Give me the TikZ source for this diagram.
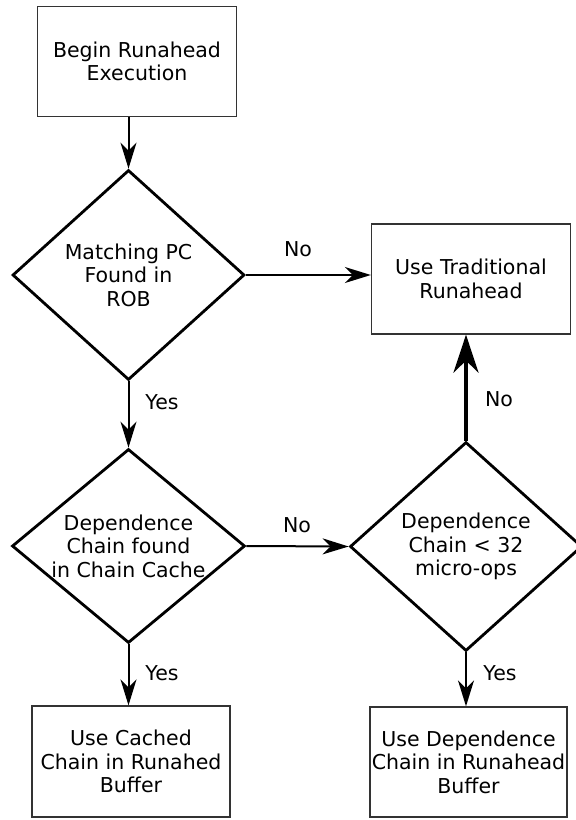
\documentclass[tikz,border=0pt]{standalone}
\usepackage{fontspec}
\setmainfont{DejaVu Sans}
\usetikzlibrary{shapes.geometric, arrows.meta}

\begin{document}
\begin{tikzpicture}[x=1pt, y=-1pt,
    every node/.style={font=\fontsize{20.5}{23.5}\selectfont},
    stepbox/.style={rectangle, draw=black!80, line width=1.3pt, align=center, inner sep=0pt},
    decision/.style={diamond, draw=black, line width=2.8pt, align=center, inner sep=-25pt},
    flow/.style={draw, line width=2pt, -{Stealth[length=26pt, width=16pt, inset=8pt]}},
    flowthick/.style={draw, line width=3.2pt, -{Stealth[length=38pt, width=25pt, inset=12pt]}},
    lbl/.style={inner sep=0pt}]
    \useasboundingbox (0,0) rectangle (576,820);

    % boxes
    \node[stepbox, minimum width=199pt, minimum height=110pt] (begin) at (137,61.5) {Begin Runahead\\Execution};
    \node[stepbox, minimum width=199pt, minimum height=110pt] (trad) at (471,279) {Use Traditional\\Runahead};
    \node[stepbox, minimum width=198pt, minimum height=111pt] (cached) at (131,761.5) {Use Cached\\Chain in Runahed\\Buffer};
    \node[stepbox, minimum width=197pt, minimum height=110pt] (runbuf) at (468.5,762) {Use Dependence\\Chain in Runahead\\Buffer};

    % decisions
    \node[decision, minimum width=232pt, minimum height=210pt] (match) at (128.5,275) {Matching PC\\Found in\\ROB};
    \node[decision, minimum width=233pt, minimum height=194pt] (found) at (128.5,546) {Dependence\\Chain found\\in Chain Cache};
    \node[decision, minimum width=232pt, minimum height=209pt] (small) at (466,546.5) {Dependence\\Chain < 32\\micro-ops};

    % connectors
    \draw[flow] (match.north |- begin.south) -- (match.north);
    \draw[flow] (match.east) -- (match.east -| trad.west);
    \draw[flow] (match.south) -- (found.north);
    \draw[flow] (found.east) -- (small.west);
    \draw[flowthick] (small.north) -- (small.north |- trad.south);
    \draw[flow] (found.south) -- (found.south |- cached.north);
    \draw[flow] (small.south) -- (small.south |- runbuf.north);

    % labels
    \node[lbl] (no1) at (298,249) {No};
    \node[lbl] (yes1) at (162,402) {Yes};
    \node[lbl] (no2) at (297,525) {No};
    \node[lbl] (no3) at (499,399) {No};
    \node[lbl] (yes2) at (162,673) {Yes};
    \node[lbl] (yes3) at (500,673) {Yes};
\end{tikzpicture}
\end{document}
